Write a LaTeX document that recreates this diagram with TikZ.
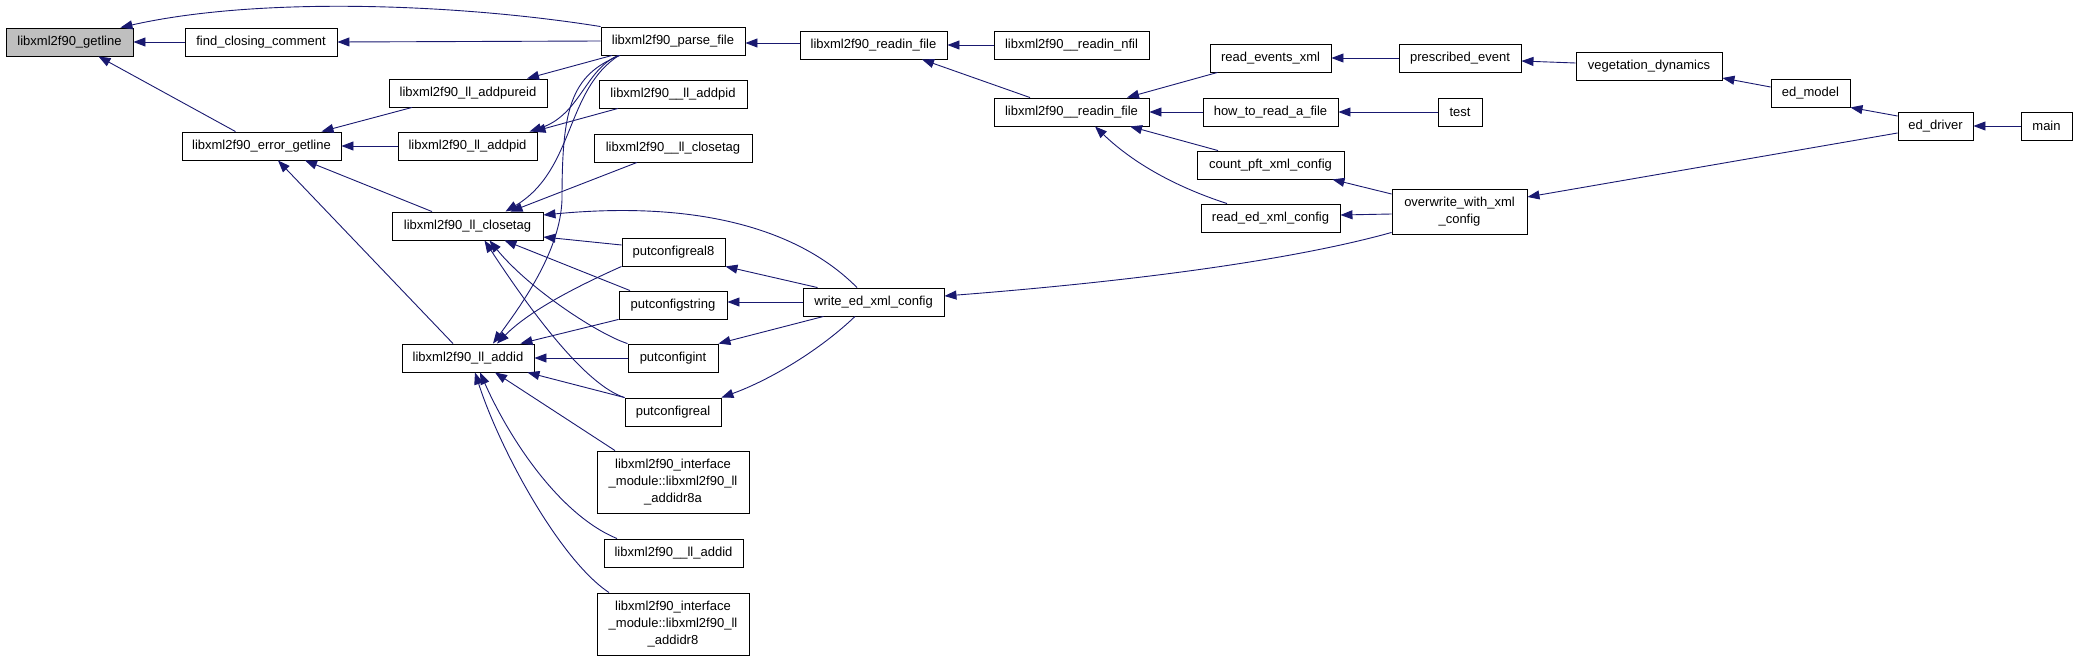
\documentclass[tikz,border=0pt]{standalone}
\usepackage{fontspec}
\setmainfont{Liberation Sans}
\usetikzlibrary{arrows.meta}
\definecolor{edgecol}{RGB}{25,25,112}
\definecolor{hlfill}{RGB}{191,191,191}
\begin{document}
\begin{tikzpicture}[x=1pt,y=-1pt,
  box/.style={draw=black, line width=0.9pt, fill=white, inner sep=0pt, minimum height=28pt, align=center, font=\fontsize{13}{17}\selectfont},
  edge/.style={draw=edgecol, line width=0.9pt, -{Triangle[length=12pt,width=9pt]}}]
\useasboundingbox (0,0) rectangle (2077,661);
% nodes
\node[box, fill=hlfill, minimum width=127pt] (getline) at (69.5,42) {libxml2f90\_getline};
\node[box, minimum width=152pt] (fcc) at (261,42) {find\_closing\_comment};
\node[box, minimum width=159pt] (errg) at (261.5,146) {libxml2f90\_error\_getline};
\node[box, minimum width=158pt] (addpureid) at (468,93) {libxml2f90\_ll\_addpureid};
\node[box, minimum width=139pt] (addpid) at (467.5,146) {libxml2f90\_ll\_addpid};
\node[box, minimum width=151pt] (closetag) at (467.5,226) {libxml2f90\_ll\_closetag};
\node[box, minimum width=132pt] (addid) at (468,358) {libxml2f90\_ll\_addid};
\node[box, minimum width=144pt] (parse) at (673,41) {libxml2f90\_parse\_file};
\node[box, minimum width=148pt] (llpid) at (673,94) {libxml2f90\_\_ll\_addpid};
\node[box, minimum width=158pt] (llclose) at (673,148) {libxml2f90\_\_ll\_closetag};
\node[box, minimum width=103pt] (pcr8) at (673.5,252) {putconfigreal8};
\node[box, minimum width=108pt] (pcs) at (673,305) {putconfigstring};
\node[box, minimum width=90pt] (pci) at (673,358) {putconfigint};
\node[box, minimum width=96pt] (pcr) at (673,412) {putconfigreal};
\node[box, minimum width=152pt, minimum height=62pt] (r8a) at (673,482) {libxml2f90\_interface\\\_module::libxml2f90\_ll\\\_addidr8a};
\node[box, minimum width=139pt] (lladdid) at (673.5,553) {libxml2f90\_\_ll\_addid};
\node[box, minimum width=152pt, minimum height=62pt] (r8) at (673,624) {libxml2f90\_interface\\\_module::libxml2f90\_ll\\\_addidr8};
\node[box, minimum width=141pt] (write) at (873.5,302) {write\_ed\_xml\_config};
\node[box, minimum width=147pt] (readin) at (873.5,45) {libxml2f90\_readin\_file};
\node[box, minimum width=155pt] (nfil) at (1071.5,45) {libxml2f90\_\_readin\_nfil};
\node[box, minimum width=155pt] (rfile) at (1071.5,112) {libxml2f90\_\_readin\_file};
\node[box, minimum width=121pt] (revents) at (1270.5,58) {read\_events\_xml};
\node[box, minimum width=135pt] (howto) at (1270.5,112) {how\_to\_read\_a\_file};
\node[box, minimum width=147pt] (countpft) at (1270.5,165) {count\_pft\_xml\_config};
\node[box, minimum width=139pt] (readed) at (1270.5,218) {read\_ed\_xml\_config};
\node[box, minimum width=122pt] (presc) at (1460,58) {prescribed\_event};
\node[box, minimum width=44pt] (test) at (1460,112) {test};
\node[box, minimum width=135pt, minimum height=45pt] (overwrite) at (1459.5,211.5) {overwrite\_with\_xml\\\_config};
\node[box, minimum width=146pt] (veg) at (1649,66) {vegetation\_dynamics};
\node[box, minimum width=79pt] (edmodel) at (1810.5,93) {ed\_model};
\node[box, minimum width=75pt] (eddriver) at (1935.5,126) {ed\_driver};
\node[box, minimum width=51pt] (main) at (2046.5,126) {main};
% edges
\draw[edge] (parse.north west) .. controls (460,4) and (260,-4) .. ([xshift=-13pt]getline.north east);
\draw[edge] (fcc.west) -- (getline.east);
\draw[edge] ([xshift=-26pt]errg.north) -- ([xshift=29pt]getline.south);
\draw[edge] (parse.west) -- (fcc.east);
\draw[edge] ([xshift=-56pt]addpureid.south) -- ([xshift=60pt]errg.north);
\draw[edge] (addpid.west) -- (errg.east);
\draw[edge] ([xshift=-35.5pt]closetag.north) -- ([xshift=43.5pt]errg.south);
\draw[edge] ([xshift=-15pt]addid.north) -- ([xshift=16.5pt]errg.south);
\draw[edge] ([xshift=-61pt]parse.south) -- ([xshift=59pt]addpureid.north);
\draw[edge] ([xshift=-55pt]parse.south) .. controls (585,70) and (580,115) .. ([xshift=62pt]addpid.north);
\draw[edge] ([xshift=-55pt]llpid.south) -- ([xshift=66pt]addpid.north);
\draw[edge] ([xshift=-54pt]parse.south) .. controls (565,90) and (575,170) .. ([xshift=38pt]closetag.north);
\draw[edge] ([xshift=-36pt]llclose.south) -- ([xshift=43pt]closetag.north);
\draw[edge] ([xshift=-53pt]parse.south) .. controls (570,75) and (562,110) .. (562,200) .. controls (560,250) and (525,300) .. ([xshift=25pt]addid.north);
\draw[edge] ([xshift=-16.5pt]write.north) .. controls (800,230) and (700,200) .. ([yshift=11pt]closetag.east);
\draw[edge] ([yshift=7pt]pcr8.west) -- ([yshift=-11pt]closetag.east);
\draw[edge] ([xshift=-43pt]pcs.north) -- ([xshift=37pt]closetag.south);
\draw[edge] (pci.north west) .. controls (600,335) and (530,290) .. ([xshift=22pt]closetag.south);
\draw[edge] (pcr.north west) .. controls (585,385) and (530,310) .. ([xshift=17pt]closetag.south);
\draw[edge] (pcr8.south west) .. controls (580,285) and (530,310) .. ([xshift=29pt]addid.north);
\draw[edge] (pcs.south west) -- ([xshift=-14pt]addid.north east);
\draw[edge] (pci.west) -- (addid.east);
\draw[edge] (pcr.north west) -- ([xshift=-7pt]addid.south east);
\draw[edge] ([xshift=-58pt]r8a.north) -- ([xshift=27pt]addid.south);
\draw[edge] ([xshift=-56.5pt]lladdid.north) .. controls (560,515) and (510,440) .. ([xshift=12pt]addid.south);
\draw[edge] ([xshift=-64pt]r8.north) .. controls (560,560) and (500,450) .. ([xshift=7pt]addid.south);
\draw[edge] ([xshift=-56pt]write.north) -- (pcr8.south east);
\draw[edge] (write.west) -- (write.west -| pcs.east);
\draw[edge] ([xshift=-50pt]write.south) -- (pci.north east);
\draw[edge] ([xshift=-18.5pt]write.south) .. controls (820,350) and (770,380) .. (pcr.north east);
\draw[edge] ([yshift=2pt]readin.west) -- ([yshift=-2pt]parse.east);
\draw[edge] (nfil.west) -- (readin.east);
\draw[edge] ([xshift=-41.5pt]rfile.north) -- ([xshift=48.5pt]readin.south);
\draw[edge] ([xshift=-53pt]revents.south) -- ([xshift=55.5pt]rfile.north);
\draw[edge] (howto.west) -- (rfile.east);
\draw[edge] ([xshift=-52.5pt]countpft.north) -- ([xshift=58.5pt]rfile.south);
\draw[edge] ([xshift=-43.5pt]readed.north) .. controls (1170,185) and (1130,160) .. ([xshift=23.5pt]rfile.south);
\draw[edge] ([yshift=2pt]overwrite.south west) .. controls (1300,258) and (1150,280) .. ([yshift=6pt]write.east);
\draw[edge] (presc.west) -- (revents.east);
\draw[edge] (test.west) -- (howto.east);
\draw[edge] ([yshift=17.5pt]overwrite.west) -- ([xshift=-12pt]countpft.south east);
\draw[edge] ([yshift=-2.5pt]overwrite.west) -- ([yshift=3pt]readed.east);
\draw[edge] ([yshift=3pt]veg.west) -- ([yshift=-3pt]presc.east);
\draw[edge] ([yshift=6pt]edmodel.west) -- ([yshift=-12pt]veg.east);
\draw[edge] ([yshift=10pt]eddriver.west) -- (edmodel.south east);
\draw[edge] ([yshift=-7pt]eddriver.west) -- ([yshift=14.5pt]overwrite.east);
\draw[edge] (main.west) -- (eddriver.east);
\end{tikzpicture}
\end{document}
